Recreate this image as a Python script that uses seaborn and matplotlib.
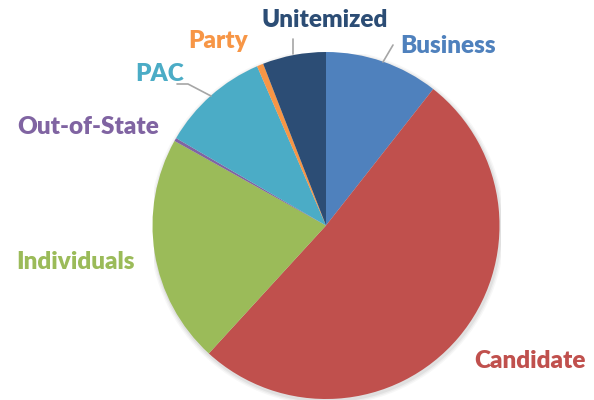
import matplotlib
matplotlib.use("Agg")
import matplotlib.pyplot as plt
import seaborn as sns
from matplotlib.lines import Line2D

sns.set_theme(style="white")
plt.rcParams['font.family'] = ['Lato', 'DejaVu Sans']

categories = ["Business", "Candidate", "Individuals", "Out-of-State", "PAC", "Party", "Unitemized"]
shares = [10.6, 51.2, 21.3, 0.3, 10.1, 0.6, 5.9]
colors = ["#4F81BD", "#C0504D", "#9BBB59", "#8064A2", "#4BACC6", "#F79646", "#2C4D75"]

W, H = 594, 400
fig = plt.figure(figsize=(W / 100, H / 100), dpi=100)
fig.patch.set_facecolor("white")

cx, cy, r = 326, 225.5, 173.5

def fx(x):
    return x / W

def fy(y):
    return 1 - y / H

# subtle shadow
sh = fig.add_axes([fx(cx - r + 1), fy(cy + r + 2), 2 * r / W, 2 * r / H])
sh.set_xlim(-1, 1); sh.set_ylim(-1, 1); sh.axis("off")
for i, a in enumerate([0.05, 0.04, 0.03]):
    sh.add_patch(plt.Circle((0, 0), 1.0 + 0.008 * (i + 1), color="black", alpha=a, lw=0))

ax = fig.add_axes([fx(cx - r), fy(cy + r), 2 * r / W, 2 * r / H])
ax.pie(shares, colors=colors, startangle=90, counterclock=False, radius=1,
       wedgeprops=dict(linewidth=0))
ax.set_xlim(-1, 1); ax.set_ylim(-1, 1)
ax.axis("off")

label_pos = {
    "Business": (448, 46),
    "Candidate": (530, 361),
    "Individuals": (76, 262),
    "Out-of-State": (88, 127),
    "PAC": (160, 74),
    "Party": (218, 41),
    "Unitemized": (325, 20),
}
for cat, col in zip(categories, colors):
    x, y = label_pos[cat]
    fig.text(fx(x), fy(y), cat, color=col, fontsize=17.5, fontweight="heavy",
             ha="center", va="center")

leaders = [
    [(293, 39), (293, 54)],
    [(393, 45), (383, 62)],
    [(177, 84), (188, 84), (211, 96)],
]
for pts in leaders:
    xs = [fx(p[0]) for p in pts]
    ys = [fy(p[1]) for p in pts]
    fig.add_artist(Line2D(xs, ys, color="#A6A6A6", lw=1.2, transform=fig.transFigure))

fig.savefig("out.png", dpi=100, facecolor="white")
